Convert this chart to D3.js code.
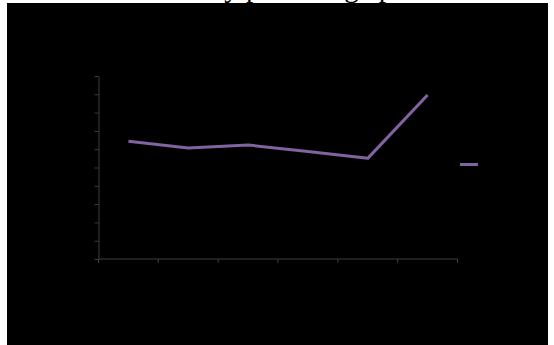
<!DOCTYPE html>
<html>
<head>
<meta charset="utf-8">
<script src="https://cdn.jsdelivr.net/npm/d3@7"></script>
<style>
  html, body { margin: 0; padding: 0; background: #ffffff; }
  svg { display: block; }
</style>
</head>
<body>
<script>
// Chart content
const title = "Volatility percentage point";
const categories = ["2015", "2016", "2017", "2018", "2019", "2020"];
const seriesName = "Percentage";
const values = [6.43, 6.07, 6.23, 5.87, 5.50, 8.96];
const yTicks = [0, 1, 2, 3, 4, 5, 6, 7, 8, 9, 10];

const W = 554, H = 345;
const svg = d3.select("body").append("svg").attr("width", W).attr("height", H);

// Chart area (black fill)
svg.append("rect").attr("x", 7).attr("y", 3).attr("width", 541).attr("height", H - 3)
  .attr("fill", "#000000");

// Title sits above the chart area; only its descenders reach the page
const titleText = svg.append("text")
  .attr("x", 0).attr("y", -3)
  .attr("font-family", "'Liberation Serif', 'Times New Roman', serif")
  .attr("font-size", 29)
  .attr("fill", "#000000")
  .text(title);
// place the word "percentage" so that it starts at x = 246
const idx = title.indexOf("percentage");
const pre = titleText.node().getSubStringLength(0, idx);
titleText.attr("x", 246 - pre);

const plot = { left: 98.5, right: 457.5, top: 76, bottom: 259 };

const x = d3.scaleBand().domain(categories).range([plot.left, plot.right]);
const y = d3.scaleLinear().domain([0, 10]).range([plot.bottom, plot.top]);

const axisColor = "#3f3f3f";

// Y axis
const gy = svg.append("g").attr("transform", `translate(${plot.left},0)`)
  .call(d3.axisLeft(y).tickValues(yTicks).tickSize(4).tickSizeOuter(0));
gy.select(".domain").attr("stroke", axisColor);
gy.selectAll(".tick line").attr("stroke", axisColor);
gy.selectAll(".tick text").attr("fill", "#000000")
  .attr("font-family", "'Liberation Serif', serif").attr("font-size", 12);

// X axis: ticks on band boundaries
const gx = svg.append("g").attr("transform", `translate(0,${plot.bottom})`);
gx.append("line").attr("x1", plot.left).attr("x2", plot.right)
  .attr("y1", 0).attr("y2", 0).attr("stroke", axisColor);
const boundaries = categories.map(c => x(c)).concat([x(categories[categories.length - 1]) + x.bandwidth()]);
gx.selectAll("line.tk").data(boundaries).enter().append("line").attr("class", "tk")
  .attr("x1", d => d).attr("x2", d => d).attr("y1", 0).attr("y2", 4)
  .attr("stroke", axisColor);
gx.selectAll("text").data(categories).enter().append("text")
  .attr("x", d => x(d) + x.bandwidth() / 2).attr("y", 18)
  .attr("text-anchor", "middle")
  .attr("font-family", "'Liberation Serif', serif").attr("font-size", 12)
  .attr("fill", "#000000").text(d => d);

// Series line
const line = d3.line()
  .x((d, i) => x(categories[i]) + x.bandwidth() / 2)
  .y(d => y(d));
svg.append("path").datum(values)
  .attr("d", line)
  .attr("fill", "none")
  .attr("stroke", "#8064a2")
  .attr("stroke-width", 3)
  .attr("stroke-linejoin", "round");

// Legend
const lg = svg.append("g").attr("transform", "translate(460,164.5)");
lg.append("line").attr("x1", 0).attr("x2", 18).attr("y1", 0).attr("y2", 0)
  .attr("stroke", "#8064a2").attr("stroke-width", 3);
lg.append("text").attr("x", 23).attr("y", 4)
  .attr("font-family", "'Liberation Serif', serif").attr("font-size", 12)
  .attr("fill", "#000000").text(seriesName);
</script>
</body>
</html>
